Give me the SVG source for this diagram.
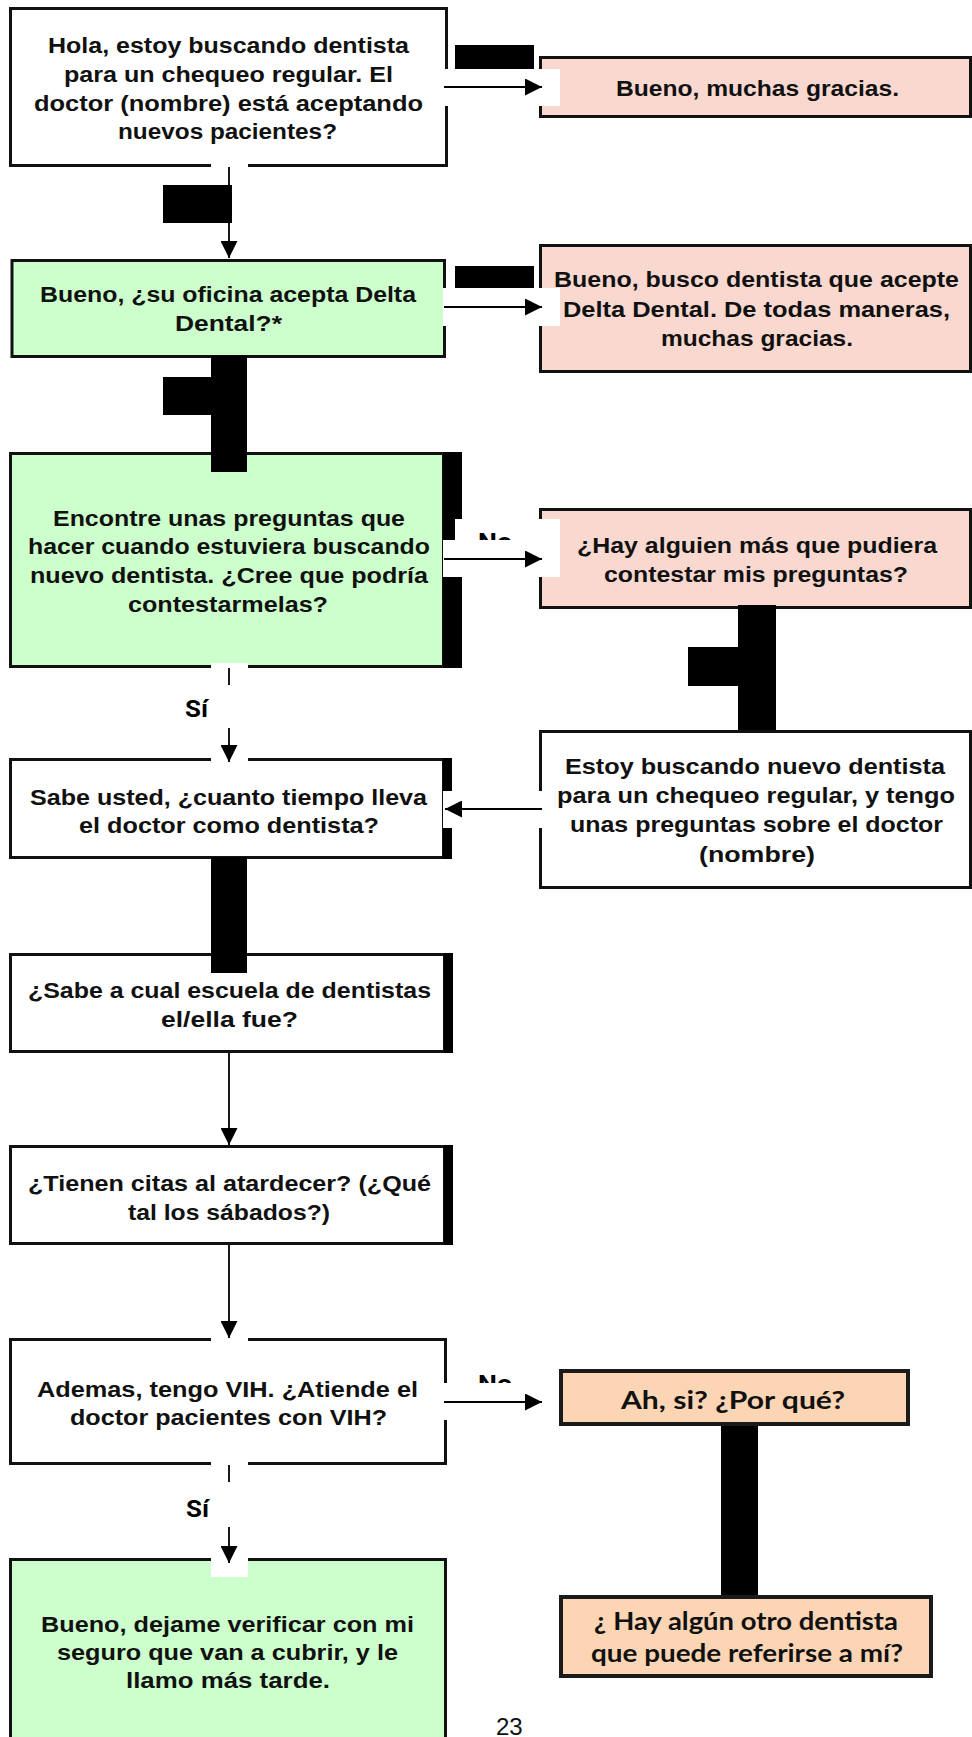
<svg xmlns="http://www.w3.org/2000/svg" width="972" height="1737" viewBox="0 0 972 1737">
<defs>
<style>
.bx{stroke:#111;stroke-width:3}
.w{fill:#fff}
.g{fill:#ccffcc}
.p{fill:#f9d9cf}
.pc{fill:#fcd5b5;stroke:#1a1a1a;stroke-width:4}
.blk{fill:#000}
.wh{fill:#fff}
.t{font-family:"Liberation Sans",Arial,sans-serif;font-weight:bold;font-size:22.5px;fill:#111}
.tc{font-family:Lato,"Liberation Sans",Arial,sans-serif;font-weight:bold;font-size:24px;fill:#111}
.lb{font-family:Roboto,"Liberation Sans",Arial,sans-serif;font-weight:bold;font-size:24px;fill:#000}
.pg{font-family:"Liberation Sans",Arial,sans-serif;font-size:24px;fill:#111}
.c{stroke:#000;stroke-width:1.8;fill:none}
</style>
<marker id="ah" viewBox="0 0 17 17" refX="17" refY="8.5" markerWidth="17" markerHeight="17" markerUnits="userSpaceOnUse" orient="auto">
<path d="M0,0 L17,8.5 L0,17 z" fill="#000"/>
</marker>
</defs>
<rect width="972" height="1737" fill="#fff"/>

<g id="n1">
<rect class="bx w" x="10.5" y="8.5" width="436" height="157"/>
<text class="t" x="48" y="53" textLength="361" lengthAdjust="spacingAndGlyphs">Hola, estoy buscando dentista</text>
<text class="t" x="64" y="82" textLength="329" lengthAdjust="spacingAndGlyphs">para un chequeo regular. El</text>
<text class="t" x="34" y="111" textLength="389" lengthAdjust="spacingAndGlyphs">doctor (nombre) está aceptando</text>
<text class="t" x="118" y="139" textLength="219" lengthAdjust="spacingAndGlyphs">nuevos pacientes?</text>
</g>

<g id="n2">
<rect class="bx p" x="540.5" y="57.5" width="430" height="59"/>
<text class="t" x="616" y="96" textLength="283" lengthAdjust="spacingAndGlyphs">Bueno, muchas gracias.</text>
</g>

<g id="n3">
<rect class="bx g" x="12" y="260.5" width="432.5" height="96"/>
<text class="t" x="40" y="302" textLength="376" lengthAdjust="spacingAndGlyphs">Bueno, ¿su oficina acepta Delta</text>
<text class="t" x="175" y="331" textLength="107" lengthAdjust="spacingAndGlyphs">Dental?*</text>
</g>

<g id="n4">
<rect class="bx p" x="540.5" y="245.5" width="430" height="126"/>
<text class="t" x="554" y="287" textLength="405" lengthAdjust="spacingAndGlyphs">Bueno, busco dentista que acepte</text>
<text class="t" x="563" y="317" textLength="387" lengthAdjust="spacingAndGlyphs">Delta Dental. De todas maneras,</text>
<text class="t" x="661" y="346" textLength="192" lengthAdjust="spacingAndGlyphs">muchas gracias.</text>
</g>

<g id="n5">
<rect class="bx g" x="10.5" y="453.5" width="433" height="213"/>
<rect class="blk" x="443" y="452" width="19" height="216"/>
<text class="t" x="53" y="526" textLength="352" lengthAdjust="spacingAndGlyphs">Encontre unas preguntas que</text>
<text class="t" x="28" y="554" textLength="402" lengthAdjust="spacingAndGlyphs">hacer cuando estuviera buscando</text>
<text class="t" x="30" y="583" textLength="398" lengthAdjust="spacingAndGlyphs">nuevo dentista. ¿Cree que podría</text>
<text class="t" x="128" y="612" textLength="200" lengthAdjust="spacingAndGlyphs">contestarmelas?</text>
</g>

<g id="n6">
<rect class="bx p" x="540.5" y="509.5" width="430" height="98"/>
<text class="t" x="577" y="553" textLength="360" lengthAdjust="spacingAndGlyphs">¿Hay alguien más que pudiera</text>
<text class="t" x="604" y="582" textLength="304" lengthAdjust="spacingAndGlyphs">contestar mis preguntas?</text>
</g>

<g id="n7">
<rect class="bx w" x="540.5" y="731.5" width="430" height="156"/>
<text class="t" x="565" y="774" textLength="380" lengthAdjust="spacingAndGlyphs">Estoy buscando nuevo dentista</text>
<text class="t" x="557" y="803" textLength="398" lengthAdjust="spacingAndGlyphs">para un chequeo regular, y tengo</text>
<text class="t" x="570" y="832" textLength="373" lengthAdjust="spacingAndGlyphs">unas preguntas sobre el doctor</text>
<text class="t" x="699" y="862" textLength="116" lengthAdjust="spacingAndGlyphs">(nombre)</text>
</g>

<g id="n8">
<rect class="bx w" x="10.5" y="759.5" width="433" height="98"/>
<rect class="blk" x="443" y="758" width="9" height="101"/>
<text class="t" x="30" y="805" textLength="397" lengthAdjust="spacingAndGlyphs">Sabe usted, ¿cuanto tiempo lleva</text>
<text class="t" x="79" y="833" textLength="300" lengthAdjust="spacingAndGlyphs">el doctor como dentista?</text>
</g>

<g id="n9">
<rect class="bx w" x="10.5" y="954.5" width="434" height="97"/>
<rect class="blk" x="444" y="953" width="9" height="100"/>
<text class="t" x="28" y="998" textLength="403" lengthAdjust="spacingAndGlyphs">¿Sabe a cual escuela de dentistas</text>
<text class="t" x="161" y="1027" textLength="137" lengthAdjust="spacingAndGlyphs">el/ella fue?</text>
</g>

<g id="n10">
<rect class="bx w" x="10.5" y="1146.5" width="434" height="97"/>
<rect class="blk" x="444" y="1145" width="9" height="100"/>
<text class="t" x="28" y="1191" textLength="403" lengthAdjust="spacingAndGlyphs">¿Tienen citas al atardecer? (¿Qué</text>
<text class="t" x="128" y="1220" textLength="202" lengthAdjust="spacingAndGlyphs">tal los sábados?)</text>
</g>

<g id="n11">
<rect class="bx w" x="10.5" y="1339.5" width="435" height="124"/>
<text class="t" x="37" y="1397" textLength="381" lengthAdjust="spacingAndGlyphs">Ademas, tengo VIH. ¿Atiende el</text>
<text class="t" x="70" y="1425" textLength="317" lengthAdjust="spacingAndGlyphs">doctor pacientes con VIH?</text>
</g>

<g id="n12">
<rect class="bx g" x="10.5" y="1559.5" width="435" height="200"/>
<text class="t" x="41" y="1632" textLength="373" lengthAdjust="spacingAndGlyphs">Bueno, dejame verificar con mi</text>
<text class="t" x="57" y="1660" textLength="341" lengthAdjust="spacingAndGlyphs">seguro que van a cubrir, y le</text>
<text class="t" x="126" y="1688" textLength="204" lengthAdjust="spacingAndGlyphs">llamo más tarde.</text>
</g>

<g id="n13">
<rect class="pc" x="561" y="1371" width="347" height="53"/>
<text class="tc" x="621" y="1409" textLength="224" lengthAdjust="spacingAndGlyphs">Ah, si? ¿Por qué?</text>
</g>

<g id="n14">
<rect class="pc" x="561" y="1597" width="370" height="79"/>
<text class="tc" x="594" y="1630" textLength="304" lengthAdjust="spacingAndGlyphs">¿ Hay algún otro dentista</text>
<text class="tc" x="591" y="1662" textLength="312" lengthAdjust="spacingAndGlyphs">que puede referirse a mí?</text>
</g>

<g id="masks">
<rect class="wh" x="443" y="69" width="117" height="37"/>
<rect class="wh" x="211" y="162" width="37" height="7"/>
<rect class="wh" x="443" y="288" width="117" height="38"/>
<rect class="wh" x="455" y="519" width="105" height="22"/>
<text class="lb" x="478" y="550" textLength="34" lengthAdjust="spacingAndGlyphs">No</text>
<rect class="wh" x="443" y="540" width="117" height="37"/>
<rect class="wh" x="211" y="663" width="37" height="7"/>
<rect class="wh" x="211" y="755" width="37" height="8"/>
<rect class="wh" x="443" y="791" width="114" height="37"/>
<rect class="wh" x="211" y="1335" width="37" height="8"/>
<text class="lb" x="478" y="1392" textLength="34" lengthAdjust="spacingAndGlyphs">No</text>
<rect class="wh" x="443" y="1383" width="112" height="37"/>
<rect class="wh" x="211" y="1461" width="37" height="7"/>
<rect class="wh" x="211" y="1556" width="37" height="21"/>
</g>

<g id="connectors">
<line class="c" x1="444" y1="87" x2="542" y2="87" marker-end="url(#ah)"/>
<line class="c" x1="229" y1="167" x2="229" y2="258" marker-end="url(#ah)"/>
<line class="c" x1="444" y1="307" x2="542" y2="307" marker-end="url(#ah)"/>
<line class="c" x1="444" y1="559" x2="542" y2="559" marker-end="url(#ah)"/>
<line class="c" x1="229" y1="668" x2="229" y2="685"/>
<line class="c" x1="229" y1="728" x2="229" y2="762" marker-end="url(#ah)"/>
<line class="c" x1="542" y1="809" x2="445" y2="809" marker-end="url(#ah)"/>
<line class="c" x1="229" y1="1053" x2="229" y2="1145" marker-end="url(#ah)"/>
<line class="c" x1="229" y1="1245" x2="229" y2="1338" marker-end="url(#ah)"/>
<line class="c" x1="444" y1="1402" x2="542" y2="1402" marker-end="url(#ah)"/>
<line class="c" x1="229" y1="1465" x2="229" y2="1482"/>
<line class="c" x1="229" y1="1527" x2="229" y2="1563" marker-end="url(#ah)"/>
<text class="lb" x="185" y="717" textLength="23" lengthAdjust="spacingAndGlyphs">Sí</text>
<text class="lb" x="186" y="1517" textLength="23" lengthAdjust="spacingAndGlyphs">Sí</text>
</g>

<g id="redactions">
<rect class="blk" x="455" y="45" width="79" height="24"/>
<rect class="blk" x="163" y="185" width="69" height="38"/>
<rect class="blk" x="455" y="266" width="79" height="22"/>
<rect class="blk" x="211" y="355" width="36" height="117"/>
<rect class="blk" x="163" y="377" width="84" height="38"/>
<rect class="blk" x="738" y="605" width="38" height="125"/>
<rect class="blk" x="688" y="647" width="50" height="39"/>
<rect class="blk" x="211" y="857" width="36" height="116"/>
<rect class="blk" x="721" y="1426" width="37" height="169"/>
</g>

<text class="pg" x="496" y="1735">23</text>
</svg>
